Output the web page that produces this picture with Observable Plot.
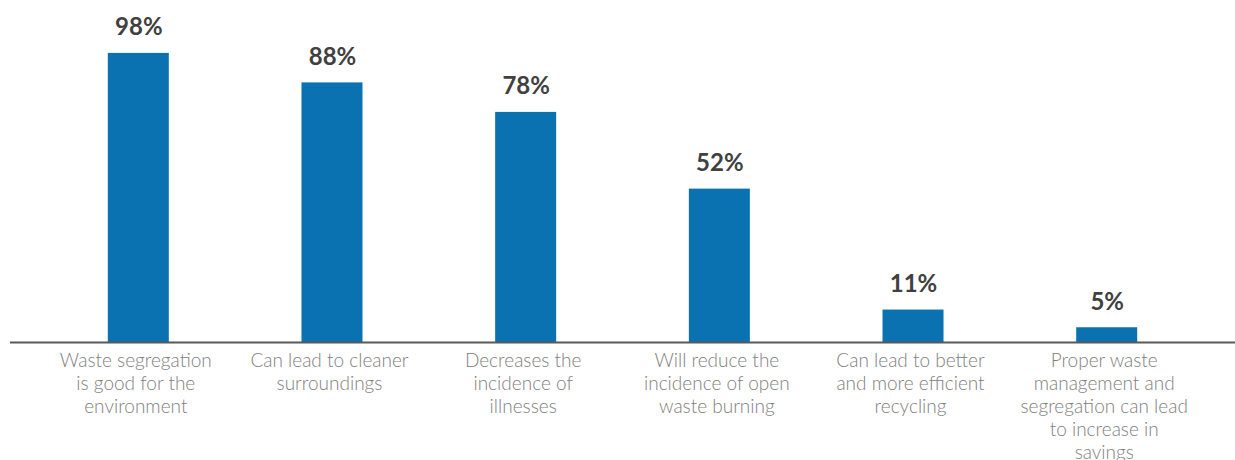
<!DOCTYPE html>
<html>
<head>
<meta charset="utf-8">
<script src="https://cdn.jsdelivr.net/npm/d3@7"></script>
<script src="https://cdn.jsdelivr.net/npm/@observablehq/plot@0.6"></script>
<style>
  html, body { margin: 0; padding: 0; background: #fff; }
  #chart { width: 1235px; height: 460px; }
</style>
</head>
<body>
<div id="chart"></div>
<script>
const categories = [
  "Waste segregation\nis good for the\nenvironment",
  "Can lead to cleaner\nsurroundings",
  "Decreases the\nincidence of\nillnesses",
  "Will reduce the\nincidence of open\nwaste burning",
  "Can lead to better\nand more efficient\nrecycling",
  "Proper waste\nmanagement and\nsegregation can lead\nto increase in\nsavings"
];
const values = [98, 88, 78, 52, 11, 5];
const valueLabels = ["98%", "88%", "78%", "52%", "11%", "5%"];

const data = categories.map((c, i) => ({category: c, value: values[i], label: valueLabels[i]}));

const chart = Plot.plot({
  width: 1235,
  height: 460,
  marginLeft: 10,
  marginRight: 0,
  marginTop: 47,
  marginBottom: 118,
  style: {fontFamily: "Lato, 'Open Sans', sans-serif", background: "#fff"},
  x: {domain: categories, paddingInner: 0.685, paddingOuter: 0.505, round: false, axis: null},
  y: {domain: [0, 100], axis: null},
  marks: [
    Plot.barY(data, {x: "category", y: "value", fill: "#0b72b2"}),
    Plot.ruleY([0], {stroke: "#595959", strokeWidth: 2}),
    Plot.text(data, {x: "category", y: "value", text: "label", lineAnchor: "bottom", dy: -18,
      fontSize: 24, fontWeight: "bold", fill: "#404040"}),
    Plot.text(data, {x: "category", y: 0, text: "category", lineAnchor: "top", dy: 8, dx: -3,
      fontSize: 19, fontWeight: 300, fill: "#808080", lineHeight: 1.21})
  ]
});
document.getElementById("chart").appendChild(chart);
</script>
</body>
</html>
